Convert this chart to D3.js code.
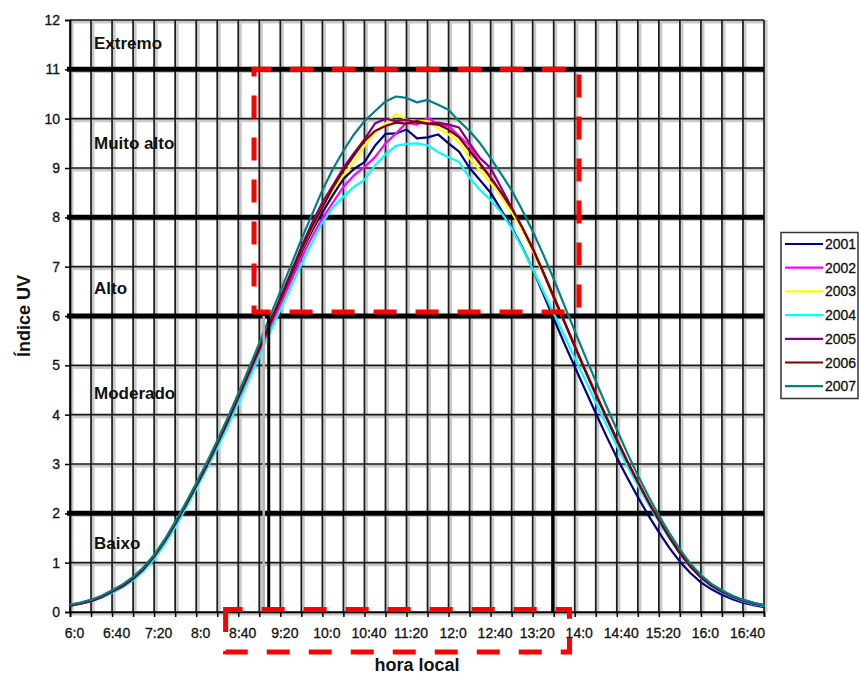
<!DOCTYPE html>
<html><head><meta charset="utf-8">
<script src="https://cdn.jsdelivr.net/npm/d3@7"></script>
<style>
body{margin:0;background:#fff}
text{font-family:"Liberation Sans",Arial,sans-serif}
</style>
</head><body><svg id="c" width="861" height="675"></svg>
<script>
// ---------- DATA ----------
const times = ["6:00","6:10","6:20","6:30","6:40","6:50","7:00","7:10","7:20","7:30",
"7:40","7:50","8:00","8:10","8:20","8:30","8:40","8:50","9:00","9:10",
"9:20","9:30","9:40","9:50","10:00","10:10","10:20","10:30","10:40","10:50",
"11:00","11:10","11:20","11:30","11:40","11:50","12:00","12:10","12:20","12:30",
"12:40","12:50","13:00","13:10","13:20","13:30","13:40","13:50","14:00","14:10",
"14:20","14:30","14:40","14:50","15:00","15:10","15:20","15:30","15:40","15:50",
"16:00","16:10","16:20","16:30","16:40","16:50","17:00"];

const years = ["2001","2002","2003","2004","2005","2006","2007"];

const v2001 = [0.13,0.17,0.22,0.30,0.40,0.51,0.66,0.85,1.10,1.41, 1.76,2.14,2.54,2.95,3.38,3.84,4.32,4.80,5.28,5.78, 6.28,6.78,7.28,7.72,8.10,8.45,8.78,8.98,9.12,9.45, 9.69,9.70,9.78,9.60,9.62,9.68,9.50,9.33,9.00,8.75, 8.50,8.15,7.80,7.40,6.95,6.45,5.95,5.45,4.97,4.50, 4.03,3.57,3.13,2.72,2.33,1.96,1.62,1.30,1.02,0.79, 0.60,0.46,0.35,0.26,0.19,0.14,0.10];
const v2002 = [0.14,0.18,0.23,0.30,0.41,0.52,0.67,0.86,1.11,1.42, 1.77,2.14,2.53,2.94,3.37,3.82,4.29,4.77,5.25,5.73, 6.22,6.70,7.17,7.60,7.98,8.30,8.62,8.85,9.02,9.22, 9.50,9.70,9.92,9.88,10.02,9.88,9.85,9.65,9.45,9.10, 8.82,8.50,8.15,7.78,7.35,6.88,6.38,5.88,5.38,4.89, 4.41,3.94,3.48,3.04,2.63,2.23,1.86,1.51,1.19,0.92, 0.70,0.53,0.41,0.31,0.23,0.17,0.13];
const v2003 = [0.14,0.18,0.23,0.31,0.42,0.54,0.69,0.89,1.14,1.45, 1.80,2.18,2.57,2.98,3.42,3.88,4.36,4.85,5.34,5.84, 6.34,6.84,7.33,7.78,8.20,8.55,8.85,9.12,9.45,9.72, 9.90,10.10,9.98,9.95,9.95,9.80,9.68,9.52,9.20,8.95, 8.70,8.42,8.10,7.75,7.32,6.85,6.37,5.88,5.39,4.90, 4.42,3.95,3.49,3.05,2.64,2.24,1.86,1.51,1.19,0.92, 0.70,0.53,0.41,0.31,0.23,0.17,0.13];
const v2004 = [0.14,0.18,0.22,0.29,0.39,0.50,0.64,0.83,1.07,1.37, 1.72,2.10,2.50,2.90,3.32,3.76,4.22,4.70,5.18,5.66, 6.12,6.58,7.05,7.48,7.90,8.20,8.42,8.62,8.76,9.05, 9.28,9.45,9.49,9.50,9.46,9.32,9.22,9.12,8.80,8.55, 8.35,8.10,7.78,7.38,6.95,6.50,6.05,5.60,5.15,4.70, 4.25,3.80,3.37,2.96,2.57,2.19,1.83,1.49,1.18,0.91, 0.69,0.52,0.40,0.30,0.22,0.16,0.12];
const v2005 = [0.13,0.17,0.22,0.30,0.41,0.52,0.67,0.87,1.12,1.43, 1.78,2.16,2.55,2.96,3.40,3.86,4.35,4.85,5.35,5.86, 6.37,6.88,7.40,7.88,8.30,8.65,9.00,9.30,9.58,9.90, 10.00,9.95,9.98,9.92,9.90,9.92,9.88,9.82,9.50,9.20, 9.00,8.60,8.20,7.80,7.36,6.88,6.38,5.88,5.38,4.89, 4.41,3.94,3.48,3.04,2.63,2.23,1.86,1.51,1.19,0.92, 0.70,0.53,0.41,0.31,0.23,0.17,0.13];
const v2006 = [0.14,0.18,0.23,0.31,0.42,0.53,0.68,0.88,1.13,1.44, 1.79,2.17,2.56,2.97,3.41,3.87,4.35,4.84,5.33,5.83, 6.33,6.84,7.34,7.80,8.20,8.60,8.95,9.25,9.55,9.75, 9.85,9.92,9.90,9.95,9.90,9.88,9.78,9.62,9.35,9.08, 8.80,8.50,8.18,7.80,7.38,6.90,6.40,5.90,5.40,4.90, 4.43,3.96,3.50,3.06,2.64,2.24,1.87,1.52,1.20,0.93, 0.71,0.54,0.42,0.32,0.24,0.18,0.14];
const v2007 = [0.15,0.19,0.25,0.33,0.44,0.56,0.71,0.91,1.16,1.47, 1.83,2.21,2.61,3.03,3.47,3.94,4.43,4.93,5.45,5.98, 6.50,7.02,7.55,8.05,8.55,8.98,9.35,9.68,9.95,10.15, 10.35,10.45,10.42,10.33,10.38,10.28,10.18,9.95,9.75,9.50, 9.20,8.88,8.55,8.15,7.72,7.25,6.75,6.22,5.70,5.18, 4.68,4.18,3.70,3.22,2.77,2.35,1.96,1.60,1.27,0.98, 0.75,0.57,0.44,0.33,0.25,0.19,0.14];

const xTickLabels = ["6:0","6:40","7:20","8:0","8:40","9:20","10:0","10:40","11:20","12:0","12:40","13:20","14:0","14:40","15:20","16:0","16:40"];
const yTickValues = [0,1,2,3,4,5,6,7,8,9,10,11,12];
const categoryLimits = [2,6,8,11];
const categoryNames = ["Baixo","Moderado","Alto","Muito alto","Extremo"];
const crossTimes = ["9:09","13:39"];   // times where UV reaches 6
const crossLevel = 6;

// ---------- BUILD ----------
const seriesValues = [v2001,v2002,v2003,v2004,v2005,v2006,v2007];
const colors = ["#000080","#ff00ff","#ffff00","#00ffff","#800080","#800000","#008080"];
const toMin = s => { const [h,m] = s.split(":").map(Number); return (h-6)*60 + m; };
const series = years.map((yr,i) => ({year: yr, color: colors[i],
  values: times.map((t,j) => ({t: toMin(t), v: seriesValues[i][j]}))}));

const svg = d3.select("#c");
svg.append("rect").attr("width",861).attr("height",675).attr("fill","#fff");

const x = d3.scaleLinear().domain([0,660]).range([70,764]);
const y = d3.scaleLinear().domain([0,12]).range([612,20]);

// grid (with soft grey halo)
const gridMins = d3.range(0, 661, 20);
const g = svg.append("g");
g.selectAll(".vh").data(gridMins).join("line")
  .attr("x1",d=>x(d)+1.8).attr("x2",d=>x(d)+1.8).attr("y1",y(12)).attr("y2",y(0))
  .attr("stroke","#c9c9c9").attr("stroke-width",3.5);
g.selectAll(".hh").data(yTickValues).join("line")
  .attr("x1",x(0)).attr("x2",x(660)).attr("y1",d=>y(d)+1.8).attr("y2",d=>y(d)+1.8)
  .attr("stroke","#c9c9c9").attr("stroke-width",3.5);
g.selectAll(".v").data(gridMins).join("line")
  .attr("x1",d=>x(d)).attr("x2",d=>x(d)).attr("y1",y(12)).attr("y2",y(0))
  .attr("stroke","#1a1a1a").attr("stroke-width",1.7);
g.selectAll(".h").data(yTickValues).join("line")
  .attr("x1",x(0)).attr("x2",x(660)).attr("y1",d=>y(d)).attr("y2",d=>y(d))
  .attr("stroke","#1a1a1a").attr("stroke-width",1.7);
g.selectAll(".thick").data(categoryLimits).join("line")
  .attr("x1",x(0)-3).attr("x2",x(660)).attr("y1",d=>y(d)).attr("y2",d=>y(d))
  .attr("stroke","#000").attr("stroke-width",5);

// axes
const yAxis = svg.append("g").attr("transform",`translate(${x(0)},0)`)
  .call(d3.axisLeft(y).tickValues(yTickValues).tickSize(5).tickPadding(5).tickFormat(d3.format("d")));
yAxis.select(".domain").attr("stroke","#000").attr("stroke-width",1.7);
yAxis.selectAll(".tick line").attr("stroke","#000").attr("stroke-width",1.5);
yAxis.selectAll("text").attr("font-size","14px").attr("fill","#111")
  .attr("stroke","#111").attr("stroke-width",0.3);

const xMinor = svg.append("g").attr("transform",`translate(0,${y(0)})`)
  .call(d3.axisBottom(x).tickValues(gridMins).tickSize(5).tickFormat(""));
xMinor.select(".domain").attr("stroke","#000").attr("stroke-width",1.7);
xMinor.selectAll(".tick line").attr("stroke","#000").attr("stroke-width",1.5);

const xLab = svg.append("g").attr("transform",`translate(4,${y(0)})`)
  .call(d3.axisBottom(x).tickValues(xTickLabels.map(toMin)).tickSize(0).tickPadding(16)
    .tickFormat((d,i)=>xTickLabels[i]));
xLab.select(".domain").remove();
xLab.selectAll("text").attr("font-size","14px").attr("fill","#111")
  .attr("stroke","#111").attr("stroke-width",0.3);

// category labels
const labelY = [1.28, 4.32, 6.45, 9.39, 11.41];
svg.selectAll(".cat").data(categoryNames).join("text")
  .attr("x",94).attr("y",(d,i)=>y(labelY[i]))
  .attr("font-size","17px").attr("font-weight","bold").attr("fill","#111")
  .text(d=>d);

// series lines
const line = d3.line().x(d=>x(d.t)).y(d=>y(d.v));
svg.append("g").selectAll("path").data(series).join("path")
  .attr("d",d=>line(d.values)).attr("fill","none")
  .attr("stroke",d=>d.color).attr("stroke-width",2.2).attr("stroke-linejoin","round");

// vertical markers where UV = 6
svg.selectAll(".mkh").data(crossTimes.slice(0,1)).join("line")
  .attr("x1",d=>x(toMin(d))-5).attr("x2",d=>x(toMin(d))-5)
  .attr("y1",y(crossLevel)).attr("y2",y(0)).attr("stroke","#b5b5b5").attr("stroke-width",2.5);
svg.selectAll(".mk").data(crossTimes).join("line")
  .attr("x1",d=>x(toMin(d))).attr("x2",d=>x(toMin(d)))
  .attr("y1",y(crossLevel)).attr("y2",y(0)).attr("stroke","#000").attr("stroke-width",3);

// red dashed highlight boxes
const box1 = {t0: toMin("8:55"), t1: toMin("14:04"), v0: 6.08, v1: 11};
const box2 = {t0: toMin("8:28"), t1: toMin("13:55"), v0: 0.05, v1: -0.81};
[box1, box2].forEach(b=>{
  svg.append("rect")
    .attr("x",x(b.t0)).attr("y",y(Math.max(b.v0,b.v1)))
    .attr("width",x(b.t1)-x(b.t0)).attr("height",Math.abs(y(b.v0)-y(b.v1)))
    .attr("fill","none").attr("stroke","#ff0000").attr("stroke-width",5)
    .attr("stroke-dasharray","23 19").attr("stroke-dashoffset",6);
});

// axis titles
svg.append("text").attr("x",417).attr("y",671).attr("text-anchor","middle")
  .attr("font-size","18px").attr("font-weight","bold").attr("fill","#111").text("hora local");
svg.append("text").attr("transform","translate(30,316) rotate(-90)").attr("text-anchor","middle")
  .attr("font-size","18px").attr("font-weight","bold").attr("fill","#111").text("Índice UV");

// legend
const lg = svg.append("g");
lg.append("rect").attr("x",781).attr("y",232.5).attr("width",77).attr("height",166)
  .attr("fill","#fff").attr("stroke","#333").attr("stroke-width",1.5);
const li = lg.selectAll(".li").data(series).join("g")
  .attr("transform",(d,i)=>`translate(0,${244 + i*23.7})`);
li.append("line").attr("x1",785).attr("x2",823).attr("stroke",d=>d.color).attr("stroke-width",2.2);
li.append("text").attr("x",825).attr("y",5).attr("font-size","14px").attr("fill","#111")
  .attr("stroke","#111").attr("stroke-width",0.3).text(d=>d.year);
</script>
</body></html>
